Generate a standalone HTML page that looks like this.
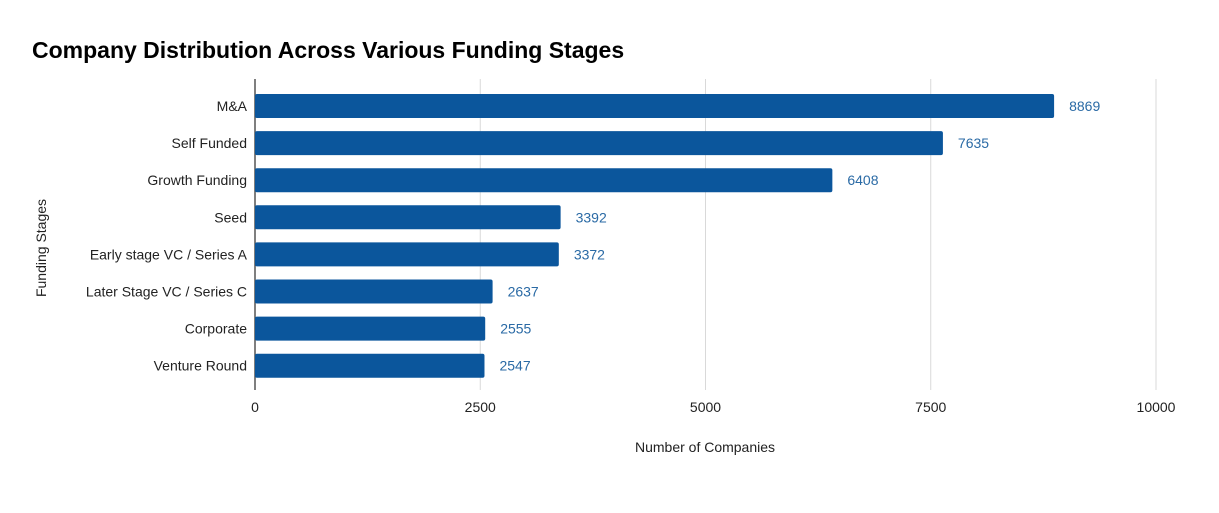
<!DOCTYPE html>
<html><head><meta charset="utf-8"><style>
body{margin:0;background:#fff;width:1219px;height:508px;overflow:hidden;font-family:"Liberation Sans",sans-serif}
</style></head><body>
<svg width="1219" height="508" xmlns="http://www.w3.org/2000/svg">
<text x="32" y="58" font-size="23" font-weight="bold" fill="#000">Company Distribution Across Various Funding Stages</text>
<g id="grid"></g><g id="bars"></g>
<text x="705" y="452" font-size="14" text-anchor="middle" fill="#222">Number of Companies</text>
<text transform="translate(46,248) rotate(-90)" font-size="14" text-anchor="middle" fill="#222">Funding Stages</text>
</svg>
<script>
const categories=["M&A","Self Funded","Growth Funding","Seed","Early stage VC / Series A","Later Stage VC / Series C","Corporate","Venture Round"];
const values=[8869,7635,6408,3392,3372,2637,2555,2547];
const ticks=[0,2500,5000,7500,10000];
const NS="http://www.w3.org/2000/svg";
const x0=255,x1=1156,maxV=10000,top0=94,pitch=37.1,bh=24;
const xs=v=>x0+(v/maxV)*(x1-x0);
const grid=document.getElementById('grid'),bars=document.getElementById('bars');
function mk(tag,attrs,parent){const e=document.createElementNS(NS,tag);for(const k in attrs)e.setAttribute(k,attrs[k]);parent.appendChild(e);return e;}
ticks.forEach(t=>{
  if(t>0){const l=mk('line',{x1:xs(t),x2:xs(t),y1:79,y2:390,stroke:'#d9d9d9','stroke-width':1},grid);
  
  }
  const tx=mk('text',{x:xs(t),y:412,'font-size':14,'text-anchor':'middle',fill:'#222'},grid);
  tx.textContent=t;
  
  
});
const ax=mk('line',{x1:x0,x2:x0,y1:79,y2:390,stroke:'#555','stroke-width':1.5},grid);


categories.forEach((c,i)=>{
  const y=top0+i*pitch;
  const r=mk('rect',{x:x0,y:y,width:xs(values[i])-x0,height:bh,rx:2,fill:'#0b569c'},bars);
  
  
  const lb=mk('text',{x:x0-8,y:y+bh/2+5,'font-size':14,'text-anchor':'end',fill:'#222'},bars);
  lb.textContent=c;
  
  
  const v=mk('text',{x:xs(values[i])+15,y:y+bh/2+5,'font-size':14,fill:'#2a6aa5'},bars);
  v.textContent=values[i];
  
  
});
</script>
</body></html>
